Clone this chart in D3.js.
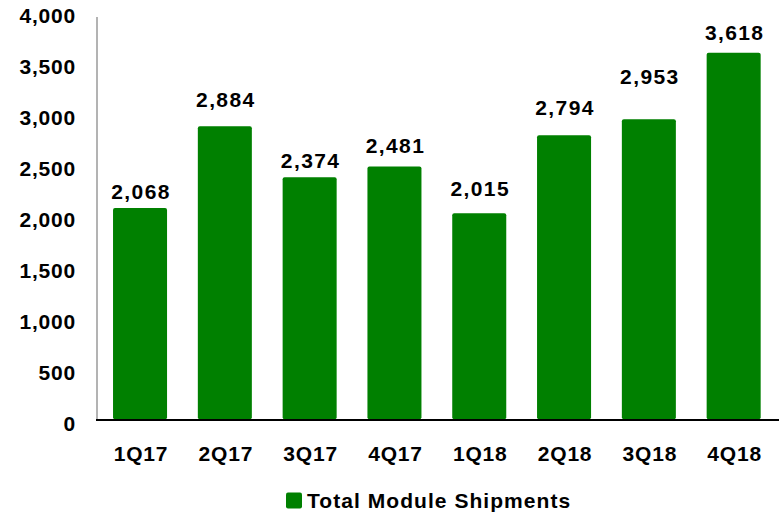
<!DOCTYPE html>
<html><head><meta charset="utf-8">
<script src="https://cdn.jsdelivr.net/npm/d3@7"></script>
<style>
html,body{margin:0;padding:0;background:#fff;}
svg{display:block;font-family:"Liberation Sans",Arial,sans-serif;font-weight:bold;}
</style></head>
<body>
<svg id="chart" width="779" height="518"></svg>
<script>
const categories = ["1Q17","2Q17","3Q17","4Q17","1Q18","2Q18","3Q18","4Q18"];
const shipments = [2068,2884,2374,2481,2015,2794,2953,3618];
const yTickValues = [0,500,1000,1500,2000,2500,3000,3500,4000];
const seriesName = "Total Module Shipments";
// label lift above bar top (layout, px)
const labelLift = [16,27,17,21,25,28,43,20];

const svg = d3.select("#chart");
const green = "#008000";

const x = d3.scaleBand().domain(categories).range([97, 776.7]).paddingInner(0.363).paddingOuter(0.189);
const y = d3.scaleLinear().domain([0,4000]).range([415.2, 14.4]);
const yLab = d3.scaleLinear().domain([0,4000]).range([424, 15.5]);

// bars
svg.append("g").selectAll("rect").data(shipments).join("rect")
  .attr("x",(d,i)=>x(categories[i]))
  .attr("width",x.bandwidth())
  .attr("y",d=>y(d))
  .attr("height",d=>y(0)-y(d)+4)
  .attr("rx",2).attr("fill",green);

// y axis line
svg.append("line").attr("x1",97).attr("x2",97).attr("y1",17).attr("y2",420)
  .attr("stroke","#9a9a9a").attr("stroke-width",1.5);
// x axis line
svg.append("line").attr("x1",96).attr("x2",779).attr("y1",420).attr("y2",420)
  .attr("stroke","#000").attr("stroke-width",2);

// y tick labels
svg.append("g").selectAll("text").data(yTickValues).join("text")
  .attr("x",76).attr("y",d=>yLab(d)).attr("dy","0.35em")
  .attr("text-anchor","end").attr("font-size",21).attr("letter-spacing",0.8)
  .attr("fill","#000").text(d=>d3.format(",")(d));

// x labels
svg.append("g").selectAll("text").data(categories).join("text")
  .attr("x",d=>x(d)+x.bandwidth()/2+1).attr("y",454).attr("dy","0.35em")
  .attr("text-anchor","middle").attr("font-size",21).attr("letter-spacing",0.8)
  .attr("fill","#000").text(d=>d);

// value labels
svg.append("g").selectAll("text").data(shipments).join("text")
  .attr("x",(d,i)=>x(categories[i])+x.bandwidth()/2+1)
  .attr("y",(d,i)=>y(d)-labelLift[i]).attr("dy","0.35em")
  .attr("text-anchor","middle").attr("font-size",21).attr("letter-spacing",1.4)
  .attr("fill","#000").text(d=>d3.format(",")(d));

// legend
const lg = svg.append("g");
lg.append("rect").attr("x",286).attr("y",492.5).attr("width",16).attr("height",16).attr("rx",2).attr("fill",green);
lg.append("text").attr("x",307).attr("y",501).attr("dy","0.35em").attr("font-size",21)
  .attr("letter-spacing",1.05).attr("fill","#000").text(seriesName);
</script>
</body></html>
